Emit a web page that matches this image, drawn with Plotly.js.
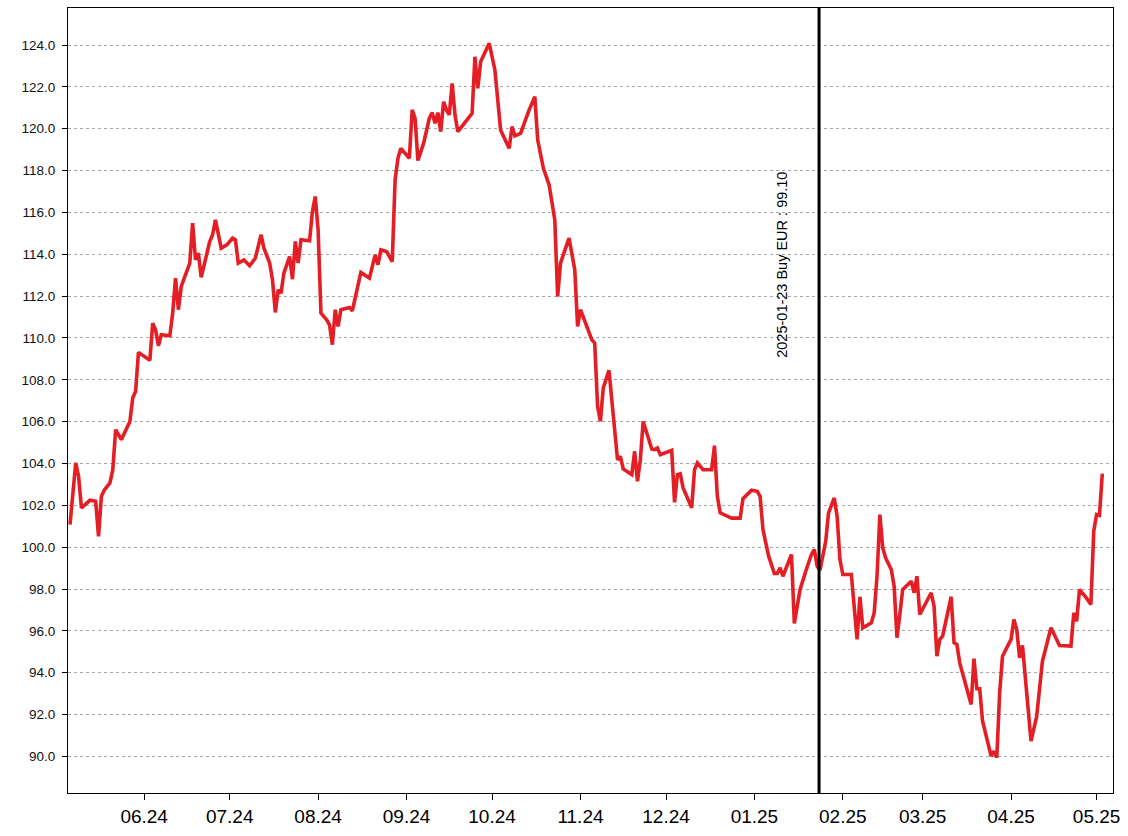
<!DOCTYPE html>
<html>
<head>
<meta charset="utf-8">
<script src="https://cdn.plot.ly/plotly-3.0.1.min.js"></script>
<style>html,body{margin:0;padding:0;background:#fff;}#chart{width:1128px;height:836px;}</style>
</head>
<body>
<div id="chart"></div>
<script>
const dates = [
"2024-05-06","2024-05-08","2024-05-09","2024-05-10","2024-05-13","2024-05-15","2024-05-16","2024-05-17","2024-05-18","2024-05-20",
"2024-05-21","2024-05-22","2024-05-24","2024-05-27","2024-05-28","2024-05-29","2024-05-30","2024-06-01","2024-06-03","2024-06-04",
"2024-06-05","2024-06-06","2024-06-07","2024-06-10","2024-06-11","2024-06-12","2024-06-13","2024-06-14","2024-06-17","2024-06-18",
"2024-06-19","2024-06-20","2024-06-21","2024-06-24","2024-06-25","2024-06-26","2024-06-28","2024-06-30","2024-07-02","2024-07-03",
"2024-07-04","2024-07-06","2024-07-08","2024-07-10","2024-07-12","2024-07-13","2024-07-15","2024-07-16","2024-07-17","2024-07-18",
"2024-07-19","2024-07-20","2024-07-22","2024-07-23","2024-07-24","2024-07-25","2024-07-26","2024-07-29","2024-07-30","2024-07-31",
"2024-08-01","2024-08-02","2024-08-04","2024-08-05","2024-08-06","2024-08-07","2024-08-08","2024-08-09","2024-08-12","2024-08-13",
"2024-08-16","2024-08-19","2024-08-21","2024-08-22","2024-08-23","2024-08-25","2024-08-27","2024-08-28","2024-08-29","2024-08-30",
"2024-09-02","2024-09-03","2024-09-04","2024-09-05","2024-09-07","2024-09-09","2024-09-10","2024-09-11","2024-09-12","2024-09-13",
"2024-09-14","2024-09-15","2024-09-16","2024-09-17","2024-09-18","2024-09-19","2024-09-22","2024-09-24","2024-09-25","2024-09-26",
"2024-09-27","2024-09-30","2024-10-02","2024-10-04","2024-10-07","2024-10-08","2024-10-09","2024-10-11","2024-10-14","2024-10-16",
"2024-10-17","2024-10-18","2024-10-19","2024-10-21","2024-10-23","2024-10-24","2024-10-25","2024-10-28","2024-10-30","2024-10-31",
"2024-11-01","2024-11-05","2024-11-06","2024-11-07","2024-11-08","2024-11-09","2024-11-11","2024-11-14","2024-11-15","2024-11-16",
"2024-11-19","2024-11-20","2024-11-21","2024-11-22","2024-11-23","2024-11-26","2024-11-27","2024-11-28","2024-11-29","2024-12-03",
"2024-12-04","2024-12-05","2024-12-06","2024-12-07","2024-12-10","2024-12-11","2024-12-12","2024-12-14","2024-12-17","2024-12-18",
"2024-12-19","2024-12-20","2024-12-24","2024-12-27","2024-12-28","2024-12-31","2025-01-02","2025-01-03","2025-01-04","2025-01-06",
"2025-01-08","2025-01-09","2025-01-10","2025-01-11","2025-01-14","2025-01-15","2025-01-17","2025-01-19","2025-01-21","2025-01-22",
"2025-01-23","2025-01-24","2025-01-26","2025-01-27","2025-01-29","2025-01-30","2025-01-31","2025-02-01","2025-02-04","2025-02-06",
"2025-02-07","2025-02-08","2025-02-11","2025-02-12","2025-02-13","2025-02-14","2025-02-15","2025-02-16","2025-02-18","2025-02-19",
"2025-02-20","2025-02-21","2025-02-22","2025-02-25","2025-02-26","2025-02-27","2025-02-28","2025-03-04","2025-03-05","2025-03-06",
"2025-03-07","2025-03-08","2025-03-11","2025-03-12","2025-03-13","2025-03-14","2025-03-16","2025-03-18","2025-03-19","2025-03-20",
"2025-03-21","2025-03-22","2025-03-25","2025-03-26","2025-03-27","2025-03-28","2025-03-29","2025-04-01","2025-04-02","2025-04-03",
"2025-04-04","2025-04-05","2025-04-08","2025-04-10","2025-04-12","2025-04-15","2025-04-18","2025-04-22","2025-04-23","2025-04-24",
"2025-04-25","2025-04-27","2025-04-29","2025-04-30","2025-05-01","2025-05-02","2025-05-03"
];
const prices = [
101.08,104.03,103.39,101.88,102.24,102.19,100.52,102.43,102.72,103.07,
103.70,105.62,105.14,106.01,107.13,107.45,109.31,109.12,108.93,110.71,
110.39,109.63,110.15,110.10,111.19,112.86,111.35,112.46,113.58,115.49,
113.73,114.05,112.90,114.61,114.93,115.64,114.29,114.45,114.77,114.69,
113.58,113.73,113.45,113.82,114.93,114.29,113.58,112.78,111.22,112.30,
112.14,113.10,113.89,112.81,114.61,113.58,114.69,114.64,116.04,116.76,
115.17,111.19,110.87,110.63,109.68,111.35,110.55,111.35,111.45,111.30,
113.13,112.86,113.97,113.50,114.21,114.13,113.65,117.55,118.59,119.06,
118.59,120.90,120.50,118.48,119.31,120.50,120.77,120.26,120.77,119.86,
121.29,120.90,120.66,122.17,120.66,119.86,120.42,120.74,123.44,121.93,
123.20,124.08,122.81,119.94,119.06,120.10,119.66,119.78,120.90,121.53,
119.47,118.75,118.11,117.32,115.64,111.98,113.58,114.77,113.26,110.55,
111.35,109.91,109.75,106.73,106.01,107.61,108.45,104.18,104.34,103.74,
103.47,104.58,103.15,104.18,106.01,104.69,104.66,104.74,104.42,104.63,
102.14,103.47,103.51,102.83,101.88,103.70,104.03,103.70,103.70,104.85,
102.43,101.64,101.39,101.39,102.32,102.72,102.67,102.43,100.84,99.57,
98.74,98.74,99.01,98.61,99.65,96.35,97.97,98.85,99.65,99.89,
99.09,98.90,100.28,101.64,102.35,101.48,99.41,98.69,98.69,95.59,
97.63,96.14,96.38,96.86,98.61,101.56,99.97,99.49,98.93,98.13,
95.67,96.78,97.97,98.37,97.82,98.61,96.78,97.82,97.18,94.79,
95.59,95.75,97.63,95.43,95.35,94.47,93.52,92.48,94.67,93.23,
93.23,91.69,90.02,90.25,89.94,93.04,94.79,95.59,96.54,96.06,
94.71,95.30,90.73,91.92,94.55,96.15,95.30,95.27,96.86,96.46,
97.97,97.65,97.26,100.76,101.56,101.52,103.51
];
const signalDate = "2025-01-23 16:00";
const signalText = "2025-01-23 Buy EUR : 99.10";
const tickDates = ["2024-06-01","2024-07-01","2024-08-01","2024-09-01","2024-10-01","2024-11-01","2024-12-01","2025-01-01","2025-02-01","2025-03-01","2025-04-01","2025-05-01"];
const tickLabels = ["06.24","07.24","08.24","09.24","10.24","11.24","12.24","01.25","02.25","03.25","04.25","05.25"];
const yTicks = [90,92,94,96,98,100,102,104,106,108,110,112,114,116,118,120,122,124];

const trace = {
  x: dates, y: prices, type: 'scatter', mode: 'lines',
  line: {color: '#e41e25', width: 3.6},
  hoverinfo: 'x+y'
};
const layout = {
  width: 1128, height: 836,
  margin: {l: 68, r: 15, t: 8, b: 43},
  paper_bgcolor: '#ffffff', plot_bgcolor: '#ffffff',
  showlegend: false,
  font: {family: 'Liberation Sans, Arial, sans-serif', color: '#000'},
  xaxis: {
    type: 'date',
    range: ['2024-05-05 07:00', '2025-05-06 18:00'],
    tickmode: 'array', tickvals: tickDates, ticktext: tickLabels,
    ticks: 'outside', ticklen: 6, tickcolor: '#000', tickwidth: 1,
    tickfont: {size: 19, color: '#000'},
    showgrid: false, zeroline: false,
    showline: true, linecolor: '#000', linewidth: 1, mirror: true
  },
  yaxis: {
    range: [88.25, 125.77],
    tickmode: 'array', tickvals: yTicks, ticktext: yTicks.map(v => v.toFixed(1)),
    ticks: 'outside', ticklen: 5, tickcolor: '#000', tickwidth: 1,
    tickfont: {size: 13.5, color: '#111'},
    ticklabelstandoff: 4,
    showgrid: true, gridcolor: '#a6a6a6', griddash: 'dot', gridwidth: 1,
    zeroline: false,
    showline: true, linecolor: '#000', linewidth: 1, mirror: true
  },
  shapes: [{
    type: 'line', xref: 'x', yref: 'paper',
    x0: signalDate, x1: signalDate, y0: 0, y1: 1,
    line: {color: '#000', width: 3}
  }],
  annotations: [{
    xref: 'x', yref: 'y', x: signalDate, y: 113.5,
    text: signalText, showarrow: false, textangle: -90,
    xshift: -37,
    font: {size: 14.5, color: '#000'}
  }]
};
Plotly.newPlot('chart', [trace], layout, {displayModeBar: false, staticPlot: true});
</script>
</body>
</html>
